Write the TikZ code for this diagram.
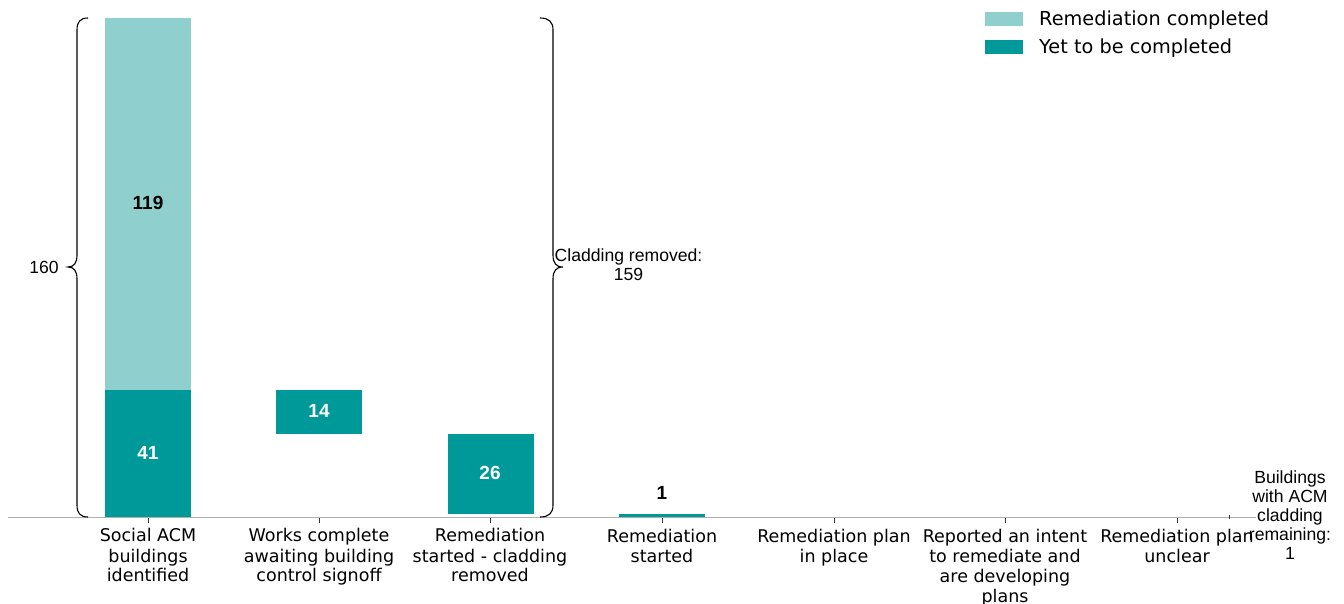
\documentclass[tikz,border=0pt]{standalone}
\usepackage{fontspec}
\setmainfont{DejaVu Sans}
\newfontfamily\arialf{Liberation Sans}
\definecolor{lightteal}{RGB}{143,208,206}
\definecolor{darkteal}{RGB}{0,153,153}
\definecolor{axisgray}{RGB}{176,176,176}
\begin{document}
\begin{tikzpicture}[x=1pt,y=-1pt,
  ticklab/.style={anchor=north, align=center, font=\fontsize{17.5}{20}\selectfont, inner sep=0pt},
  annot/.style={align=center, font=\arialf\fontsize{17.6}{19}\selectfont, inner sep=0pt},
  barlab/.style={font=\arialf\bfseries\fontsize{19}{21}\selectfont, inner sep=0pt},
  legtext/.style={anchor=base west, font=\fontsize{19.3}{22}\selectfont, inner sep=0pt},
  bracestyle/.style={draw=black, line width=1.1pt},
  tickmark/.style={draw=black!80, line width=1pt}
]
\useasboundingbox (0,0) rectangle (1344,604);
% bars
\fill[lightteal] (105,18) rectangle (191,389.5);
\fill[darkteal] (105,389.5) rectangle (191,517);
\fill[darkteal] (276,389.5) rectangle (362,433.5);
\fill[darkteal] (448,433.5) rectangle (534,514);
\fill[darkteal] (619,514) rectangle (705,517);
% axis
\draw[axisgray, line width=1.5pt] (8,517.5) -- (1256,517.5);
\foreach \x in {148,319,490,662,834,1005,1177} \draw[tickmark] (\x,518) -- (\x,523);
\draw[tickmark] (1229,515) -- (1229,519);
% bar labels
\node[barlab, text=black] (l119) at (148,203) {119};
\node[barlab, text=white] (l41) at (148,453) {41};
\node[barlab, text=white] (l14) at (319,411) {14};
\node[barlab, text=white] (l26) at (490,473) {26};
\node[barlab, text=black] (l1) at (662,493) {1};
% tick labels
\node[ticklab] (t1) at (148,528.5) {Social ACM\\buildings\\identified};
\node[ticklab] (t2) at (319,528.5) {Works complete\\awaiting building\\control signoff};
\node[ticklab] (t3) at (490,528.5) {Remediation\\started - cladding\\removed};
\node[ticklab] (t4) at (662,528.5) {Remediation\\started};
\node[ticklab] (t5) at (834,528.5) {Remediation plan\\in place};
\node[ticklab] (t6) at (1005,528.5) {Reported an intent\\to remediate and\\are developing\\plans};
\node[ticklab] (t7) at (1177,528.5) {Remediation plan\\unclear};
% braces
\draw[bracestyle] (88,18) .. controls (80,18) and (77,22) .. (77,30) -- (77,255)
  .. controls (77,263) and (74,267) .. (68,267)
  .. controls (74,267) and (77,271) .. (77,279) -- (77,505)
  .. controls (77,513) and (80,517) .. (88,517);
\node[annot] (b160) at (44,267) {160};
\draw[bracestyle] (540,18) .. controls (549,18) and (553,22) .. (553,30) -- (553,255)
  .. controls (553,263) and (556,267) .. (563,267)
  .. controls (556,267) and (553,271) .. (553,279) -- (553,505)
  .. controls (553,513) and (549,517) .. (540,517);
\node[annot, anchor=north] (clad) at (628.5,249) {Cladding removed:\\159};
\node[annot, anchor=north] (remain) at (1290,471) {Buildings\\with ACM\\cladding\\remaining:\\1};
% legend
\fill[lightteal] (985,12) rectangle (1023,26);
\fill[darkteal] (985,40) rectangle (1023,54);
\node[legtext] (leg1) at (1039,26) {Remediation completed};
\node[legtext] (leg2) at (1039,54) {Yet to be completed};
\end{tikzpicture}
\end{document}
